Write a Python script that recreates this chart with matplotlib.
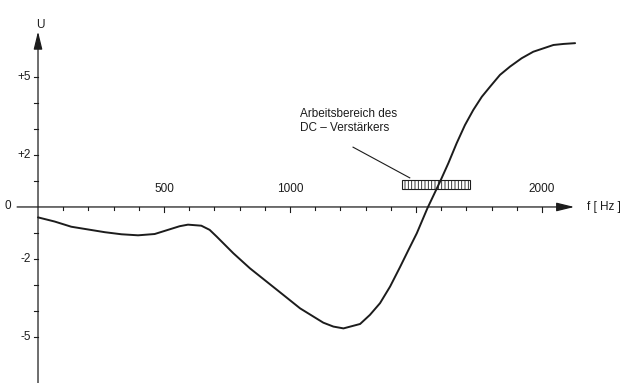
import numpy as np
import matplotlib
matplotlib.use("Agg")
import matplotlib.pyplot as plt
from matplotlib.patches import Rectangle

# curve: frequency [Hz] and U
freq = [0, 66, 132, 265, 331, 397, 463, 529, 562, 595, 648, 681, 709, 775,
        841, 907, 973, 1040, 1132, 1172, 1212, 1278, 1317, 1357, 1397, 1437,
        1470, 1503, 1545, 1595, 1628, 1661, 1694, 1727, 1761, 1794, 1833,
        1873, 1919, 1965, 2045, 2085, 2131]
volt = [-0.40, -0.56, -0.76, -0.97, -1.05, -1.09, -1.04, -0.84, -0.74, -0.68,
        -0.72, -0.88, -1.14, -1.78, -2.36, -2.87, -3.38, -3.90, -4.45, -4.60,
        -4.67, -4.50, -4.15, -3.70, -3.06, -2.30, -1.65, -1.01, -0.05, 0.97,
        1.68, 2.45, 3.15, 3.73, 4.24, 4.63, 5.08, 5.40, 5.72, 5.97, 6.23,
        6.27, 6.30]

x_ticks = list(range(100, 2100, 100))
x_labels = {500: "500", 1000: "1000", 2000: "2000"}
y_ticks = [-5, -4, -3, -2, -1, 1, 2, 3, 4, 5]
y_labels = {5: "+5", 2: "+2", -2: "-2", -5: "-5"}

# working range of the DC amplifier (hatched band)
band_f = (1443, 1714)
band_u = (0.68, 1.04)

ink = "#1c1c1c"
plt.rcParams['font.family'] = ['Liberation Sans', 'DejaVu Sans']
plt.rcParams['hatch.linewidth'] = 0.6
plt.rcParams['hatch.color'] = ink

fig = plt.figure(figsize=(6.26, 3.83), dpi=100)
ax = fig.add_axes([0, 0, 1, 1])
ax.set_xlim(-150.8, 2333)
ax.set_ylim(-6.77, 7.96)
ax.axis('off')

# axes with arrows
arrow = dict(arrowstyle='-|>,head_length=0.9,head_width=0.22', lw=0.9,
             color=ink, mutation_scale=12, shrinkA=0, shrinkB=0)
ax.annotate('', xy=(2128, 0), xytext=(-83, 0), arrowprops=arrow)
ax.annotate('', xy=(0, 6.75), xytext=(0, -6.8), arrowprops=arrow)

# x ticks (below axis), longer at every 500 Hz
for t in x_ticks:
    h = 0.2 if t % 500 == 0 else 0.13
    ax.plot([t, t], [0, -h], color=ink, lw=0.8)
    if t in x_labels:
        ax.text(t, 0.45, x_labels[t], ha='center', va='bottom',
                fontsize=8.5, color=ink)

# y ticks (left of axis)
for t in y_ticks:
    ax.plot([0, -14], [t, t], color=ink, lw=0.8)
    if t in y_labels:
        ax.text(-28, t, y_labels[t], ha='right', va='center',
                fontsize=8.5, color=ink)
ax.text(-105, 0.05, "0", ha='right', va='center', fontsize=8.5, color=ink)

ax.text(8, 7.0, "U", ha='center', va='center', fontsize=8.5, color=ink)
ax.text(2245, 0.0, "f [ Hz ]", ha='center', va='center',
        fontsize=8.5, color=ink)

# the curve
ax.plot(freq, volt, color=ink, lw=1.4, solid_capstyle='round',
        solid_joinstyle='round')

# hatched working range and its note
ax.add_patch(Rectangle((band_f[0], band_u[0]), band_f[1] - band_f[0],
                       band_u[1] - band_u[0], fill=False, edgecolor=ink,
                       lw=0.8, hatch='|||||'))
ax.text(1040, 3.3, "Arbeitsbereich des\nDC \u2013 Verst\u00e4rkers",
        ha='left', va='center', fontsize=8.5, color=ink, linespacing=1.25)
ax.plot([1250, 1475], [2.3, 1.12], color=ink, lw=0.8)

fig.savefig("out.png", dpi=100, facecolor='white')
